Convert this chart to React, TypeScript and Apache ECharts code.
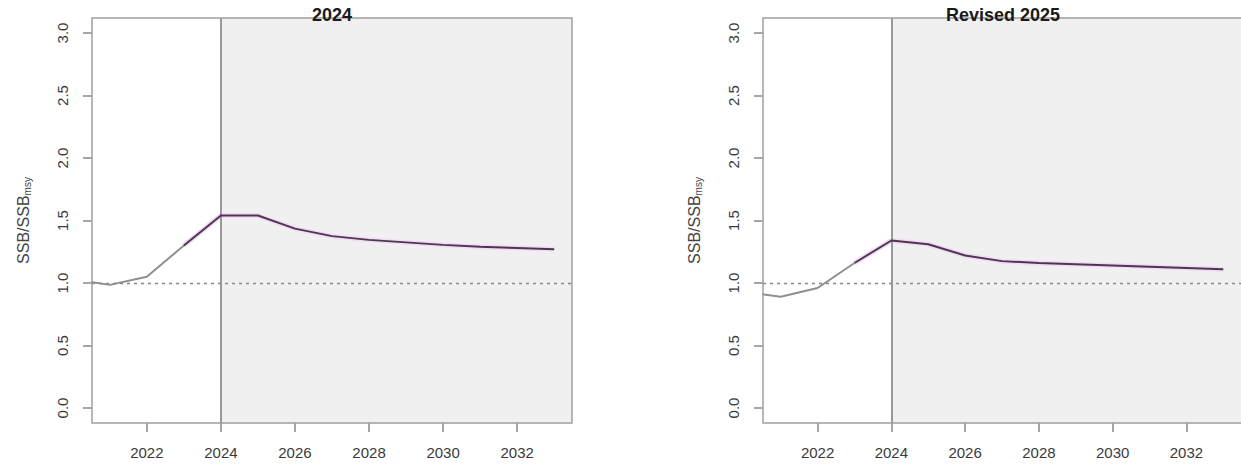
import React, { useEffect, useRef } from "react";
import * as echarts from "echarts";

const panelTitles = ["2024", "Revised 2025"];
const xTicks = [2022, 2024, 2026, 2028, 2030, 2032];
const yTicks = [0, 0.5, 1.0, 1.5, 2.0, 2.5, 3.0];
const refLevel = 1.0;
const assessmentYear = 2024;

const histYears = [2020, 2021, 2022, 2023, 2024];
const projYears = [2023, 2024, 2025, 2026, 2027, 2028, 2029, 2030, 2031, 2032, 2033];

const hist2024 = [1.03, 0.985, 1.05, 1.3, 1.54];
const proj2024 = [1.3, 1.54, 1.54, 1.435, 1.375, 1.345, 1.325, 1.305, 1.29, 1.28, 1.27];

const histRev2025 = [0.93, 0.89, 0.96, 1.16, 1.34];
const projRev2025 = [1.16, 1.34, 1.31, 1.22, 1.175, 1.16, 1.15, 1.14, 1.13, 1.12, 1.11];

const X_MIN = 2020.52;
const X_MAX = 2033.48;
const Y_MIN = -0.12;
const Y_MAX = 3.12;

const FONT = "Liberation Sans, Arial, sans-serif";

function pairs(xs: number[], ys: number[]) {
  return xs.map((x, i) => [x, ys[i]]);
}

export default function App() {
  const ref = useRef<HTMLDivElement>(null);
  useEffect(() => {
    if (!ref.current) return;
    const chart = echarts.init(ref.current, undefined, { renderer: "svg" });
    const grids = [
      { left: 92, top: 18, width: 480, height: 405 },
      { left: 763, top: 18, width: 482, height: 405 },
    ];
    const hists = [hist2024, histRev2025];
    const projs = [proj2024, projRev2025];

    const xAxis: any[] = [];
    const yAxis: any[] = [];
    const series: any[] = [];
    const graphic: any[] = [];

    grids.forEach((g, i) => {
      xAxis.push({
        type: "value",
        gridIndex: i,
        min: X_MIN,
        max: X_MAX,
        splitLine: { show: false },
        axisLine: { show: false, onZero: false },
        axisTick: {
          show: true,
          inside: false,
          length: 9,
          customValues: xTicks,
          lineStyle: { color: "#888", width: 1.5 },
        },
        axisLabel: {
          show: true,
          customValues: xTicks,
          margin: 22,
          color: "#3a3a3a",
          fontFamily: FONT,
          fontSize: 15,
          formatter: (v: number) => String(Math.round(v)),
        },
      });
      yAxis.push({
        type: "value",
        gridIndex: i,
        min: Y_MIN,
        max: Y_MAX,
        splitLine: { show: false },
        axisLine: { show: false, onZero: false },
        axisTick: {
          show: true,
          inside: false,
          length: 9,
          customValues: yTicks,
          lineStyle: { color: "#888", width: 1.5 },
        },
        axisLabel: {
          show: true,
          customValues: yTicks,
          rotate: 90,
          margin: 22,
          color: "#3a3a3a",
          fontFamily: FONT,
          fontSize: 15,
          formatter: (v: number) => v.toFixed(1),
        },
        name: "{a|SSB/SSB}{b|msy}",
        nameLocation: "middle",
        nameRotate: 90,
        nameGap: 60,
        nameTextStyle: {
          rich: {
            a: { fontFamily: FONT, fontSize: 16, color: "#444" },
            b: { fontFamily: FONT, fontSize: 10, color: "#444", verticalAlign: "bottom", padding: [8, 0, 0, 0] },
          },
        },
      });
      series.push({
        type: "line",
        xAxisIndex: i,
        yAxisIndex: i,
        data: [],
        silent: true,
        z: 1,
        markArea: {
          silent: true,
          itemStyle: { color: "#f0f0f0" },
          data: [[{ xAxis: assessmentYear }, { xAxis: X_MAX }]],
        },
        markLine: {
          silent: true,
          symbol: "none",
          label: { show: false },
          data: [
            { xAxis: assessmentYear, lineStyle: { color: "#999", width: 2, type: "solid" } },
            { yAxis: refLevel, lineStyle: { color: "#888", width: 1.3, type: [3, 4] } },
          ],
        },
      });
      series.push({
        type: "line",
        xAxisIndex: i,
        yAxisIndex: i,
        data: pairs(histYears, hists[i]),
        showSymbol: false,
        clip: true,
        z: 3,
        lineStyle: { color: "#8f8f8f", width: 2 },
      });
      series.push({
        type: "line",
        xAxisIndex: i,
        yAxisIndex: i,
        data: pairs(projYears, projs[i]),
        showSymbol: false,
        clip: true,
        z: 4,
        lineStyle: { color: "#efdcf2", width: 5 },
      });
      series.push({
        type: "line",
        xAxisIndex: i,
        yAxisIndex: i,
        data: pairs(projYears, projs[i]),
        showSymbol: false,
        clip: true,
        z: 5,
        lineStyle: { color: "#4f3552", width: 2 },
      });
      graphic.push({
        type: "rect",
        shape: { x: g.left, y: g.top, width: g.width, height: g.height },
        style: { fill: "none", stroke: "#a0a0a0", lineWidth: 1.5 },
        z: 50,
        silent: true,
      });
      graphic.push({
        type: "text",
        x: g.left + 240,
        y: 15,
        style: {
          text: panelTitles[i],
          fontFamily: FONT,
          fontWeight: "bold",
          fontSize: 18,
          fill: "#1a1a1a",
          textAlign: "center",
          textVerticalAlign: "middle",
        },
        z: 60,
      });
    });

    chart.setOption({
      animation: false,
      backgroundColor: "#fff",
      grid: grids.map((g) => ({ ...g, show: true, backgroundColor: "#fff", borderWidth: 0 })),
      xAxis,
      yAxis,
      series,
      graphic,
    });
    return () => chart.dispose();
  }, []);
  return (
    <div
      ref={ref}
      style={{ position: "fixed", left: 0, top: 0, width: 1241, height: 468 }}
    />
  );
}
